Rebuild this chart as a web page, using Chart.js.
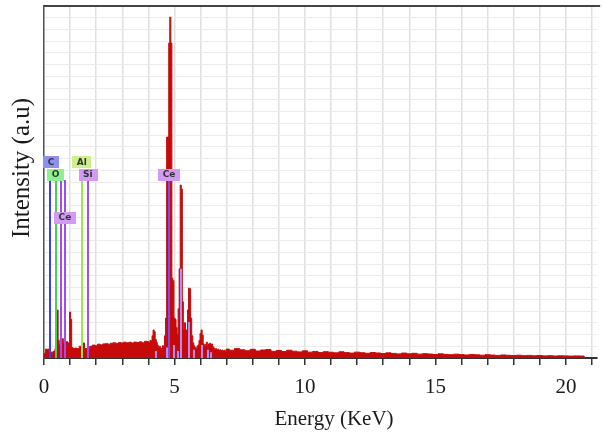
<!DOCTYPE html>
<html>
<head>
<meta charset="utf-8">
<script src="https://cdn.jsdelivr.net/npm/chart.js@4"></script>
<style>
  html, body { margin: 0; padding: 0; background: #fff; }
  #wrap { width: 602px; height: 434px; }
</style>
</head>
<body>
<div id="wrap"><canvas id="edsChart" width="602" height="434"></canvas></div>
<script>
// EDS spectrum (energy in keV, counts in arbitrary units)
const energyLow = [0, 0.04, 0.08, 0.12, 0.16, 0.20, 0.24, 0.28, 0.32, 0.36, 0.40, 0.44, 0.48, 0.52, 0.56,
  0.60, 0.64, 0.68, 0.72, 0.76, 0.80, 0.84, 0.88, 0.92, 0.96, 1.00, 1.04, 1.08, 1.12, 1.16];
const countsLow = [0, 40, 77, 70, 77, 60, 45, 51, 40, 55, 60, 80, 130, 409, 150,
  110, 160, 150, 165, 130, 120, 100, 140, 95, 130, 392, 330, 90, 85, 80];

const energyMid = [1.2, 1.3, 1.4, 1.5, 1.6, 1.7, 1.8, 1.9, 2.0, 2.1, 2.2, 2.3, 2.4, 2.5,
  2.6, 2.7, 2.8, 2.9, 3.0, 3.1, 3.2, 3.3, 3.4, 3.5, 3.6, 3.7, 3.8, 3.9];
const countsMid = [85, 80, 100, 128, 80, 75, 100, 110, 105, 118, 112, 120, 122, 118,
  126, 130, 124, 132, 128, 135, 130, 134, 128, 136, 132, 138, 130, 142];

const energyPeak = [4.00, 4.04, 4.08, 4.12, 4.16, 4.20, 4.24, 4.28, 4.32, 4.36, 4.40, 4.44, 4.48, 4.52, 4.56,
  4.60, 4.64, 4.68, 4.72, 4.76, 4.80, 4.84, 4.88, 4.92, 4.96, 5.00, 5.04, 5.08, 5.12, 5.16,
  5.20, 5.24, 5.28, 5.32, 5.36, 5.40, 5.44, 5.48, 5.52, 5.56, 5.60, 5.64, 5.68, 5.72, 5.76,
  5.80, 5.84, 5.88, 5.92, 5.96, 6.00, 6.04, 6.08, 6.12, 6.16, 6.20, 6.24, 6.28, 6.32, 6.36,
  6.40, 6.44, 6.48, 6.52, 6.56, 6.60, 6.64, 6.68, 6.72, 6.76, 6.80, 6.84, 6.88, 6.92, 6.96];
const countsPeak = [140, 130, 150, 145, 190, 239, 225, 160, 135, 110, 90, 100, 75, 85, 105,
  95, 190, 341, 1883, 1883, 2684, 2905, 2684, 680, 660, 340, 330, 260, 200, 420,
  760, 1474, 1440, 480, 240, 300, 170, 240, 410, 596, 590, 340, 190, 130, 105,
  90, 80, 100, 110, 150, 210, 239, 195, 120, 100, 115, 135, 100, 120, 125,
  110, 120, 95, 85, 75, 80, 70, 75, 65, 70, 62, 68, 60, 66, 58];

const energyTail = [7.0, 7.2, 7.4, 7.6, 7.8, 8.0, 8.2, 8.4, 8.6, 8.8, 9.0, 9.2, 9.4, 9.6, 9.8,
  10.0, 10.2, 10.4, 10.6, 10.8, 11.0, 11.2, 11.4, 11.6, 11.8, 12.0, 12.2, 12.4, 12.6, 12.8,
  13.0, 13.2, 13.4, 13.6, 13.8, 14.0, 14.2, 14.4, 14.6, 14.8, 15.0, 15.2, 15.4, 15.6, 15.8,
  16.0, 16.2, 16.4, 16.6, 16.8, 17.0, 17.2, 17.4, 17.6, 17.8, 18.0, 18.2, 18.4, 18.6, 18.8,
  19.0, 19.2, 19.4, 19.6, 19.8, 20.0, 20.2, 20.4, 20.6, 20.8];
const countsTail = [76, 66, 80, 70, 62, 74, 60, 68, 72, 57, 64, 55, 66, 58, 52,
  61, 50, 56, 47, 54, 49, 44, 53, 46, 42, 50, 45, 40, 47, 43,
  38, 44, 39, 35, 42, 36, 40, 33, 37, 34, 30, 36, 31, 28, 33,
  29, 26, 30, 27, 24, 28, 25, 22, 26, 23, 21, 24, 20, 22, 19,
  21, 18, 20, 17, 19, 18, 16, 18, 17, 0];

// element marker lines
const markerEnergy = [0.23, 0.46, 0.66, 0.82, 1.44, 1.67, 4.80];
const markerTop = [1602, 1517, 1517, 1517, 1602, 1517, 1517];
const markerColor = ['#3d3dff', '#3fd63f', '#a04cf2', '#a04cf2', '#9be64a', '#a04cf2', '#7a4cf0'];

// small Ce L-family markers near the baseline
const ceLineEnergy = [4.28, 4.72, 5.00, 5.12, 5.26, 5.54, 5.76, 6.04, 6.30, 6.40];
const ceLineTop = [60, 90, 110, 60, 760, 307, 70, 111, 70, 50];

// element labels
const labelText = ['C', 'O', 'Al', 'Si', 'Ce', 'Ce'];
const labelEnergy = [0.27, 0.44, 1.45, 1.68, 0.80, 4.79];
const labelLevel = [1670, 1563, 1670, 1563, 1197, 1563];
const labelColor = ['#8f8ff2', '#8ff08f', '#cdf08a', '#d39af3', '#d39af3', '#d39af3'];

const energies = energyLow.concat(energyMid, energyPeak, energyTail);
const counts = countsLow.concat(countsMid, countsPeak, countsTail);

const serif = '"Liberation Serif", "Times New Roman", serif';

const markersPlugin = {
  id: 'markers',
  afterDatasetsDraw(chart) {
    const ctx = chart.ctx;
    const xs = chart.scales.x;
    const ys = chart.scales.y;
    const base = ys.getPixelForValue(0);
    ctx.save();

    ctx.lineWidth = 2;
    ctx.strokeStyle = '#b58af2';
    ceLineEnergy.forEach((e, i) => {
      const x = Math.round(xs.getPixelForValue(e));
      ctx.beginPath();
      ctx.moveTo(x, base);
      ctx.lineTo(x, ys.getPixelForValue(ceLineTop[i]));
      ctx.stroke();
    });

    markerEnergy.forEach((e, i) => {
      const x = Math.round(xs.getPixelForValue(e));
      ctx.strokeStyle = markerColor[i];
      ctx.beginPath();
      ctx.moveTo(x, base);
      ctx.lineTo(x, ys.getPixelForValue(markerTop[i]));
      ctx.stroke();
    });

    ctx.font = 'bold 9px "DejaVu Sans", sans-serif';
    ctx.textAlign = 'center';
    ctx.textBaseline = 'middle';
    labelText.forEach((t, i) => {
      const cx = xs.getPixelForValue(labelEnergy[i]);
      const cy = ys.getPixelForValue(labelLevel[i]);
      const w = ctx.measureText(t).width + 9;
      ctx.fillStyle = labelColor[i];
      ctx.fillRect(Math.round(cx - w / 2), Math.round(cy - 6), Math.round(w), 12);
      ctx.fillStyle = '#333';
      ctx.fillText(t, cx, cy + 0.5);
    });

    // dark frame line along the top
    const area = chart.chartArea;
    ctx.strokeStyle = '#444';
    ctx.lineWidth = 2;
    ctx.beginPath();
    ctx.moveTo(area.left, area.top);
    ctx.lineTo(area.right + 3, area.top);
    ctx.stroke();

    // axis titles
    ctx.fillStyle = '#1a1a1a';
    ctx.textBaseline = 'alphabetic';
    ctx.font = '21px ' + serif;
    ctx.fillText('Energy (KeV)', 334, 425);
    ctx.translate(29, 168);
    ctx.rotate(-Math.PI / 2);
    ctx.font = '25px ' + serif;
    ctx.fillText('Intensity (a.u)', 0, 0);
    ctx.restore();
  }
};

new Chart(document.getElementById('edsChart'), {
  type: 'line',
  data: {
    datasets: [{
      label: 'Spectrum',
      data: energies.map((e, i) => ({ x: e, y: counts[i] })),
      stepped: 'middle',
      fill: 'origin',
      backgroundColor: '#c60a0a',
      borderColor: '#c60a0a',
      borderWidth: 1,
      pointRadius: 0
    }]
  },
  options: {
    responsive: false,
    animation: false,
    layout: { padding: { top: 6, right: 3, left: 0, bottom: 0 } },
    plugins: { legend: { display: false }, tooltip: { enabled: false } },
    scales: {
      x: {
        type: 'linear',
        min: 0,
        max: 21.2,
        afterFit(scale) { scale.height = 76; },
        grid: { color: '#e0e0e0', lineWidth: 1.5, tickLength: 7, tickColor: '#333' },
        border: { color: '#333', width: 2 },
        ticks: {
          stepSize: 1,
          includeBounds: false,
          autoSkip: false,
          maxRotation: 0,
          padding: 10,
          color: '#1a1a1a',
          font: { family: serif, size: 21 },
          callback: v => (v % 5 === 0 ? v : '')
        }
      },
      y: {
        min: 0,
        max: 3000,
        afterFit(scale) { scale.width = 44; },
        grid: { color: '#ebebeb', lineWidth: 1, drawTicks: false },
        border: { color: '#555', width: 1.5 },
        ticks: { display: false, stepSize: 100 }
      }
    }
  },
  plugins: [markersPlugin]
});
</script>
</body>
</html>
